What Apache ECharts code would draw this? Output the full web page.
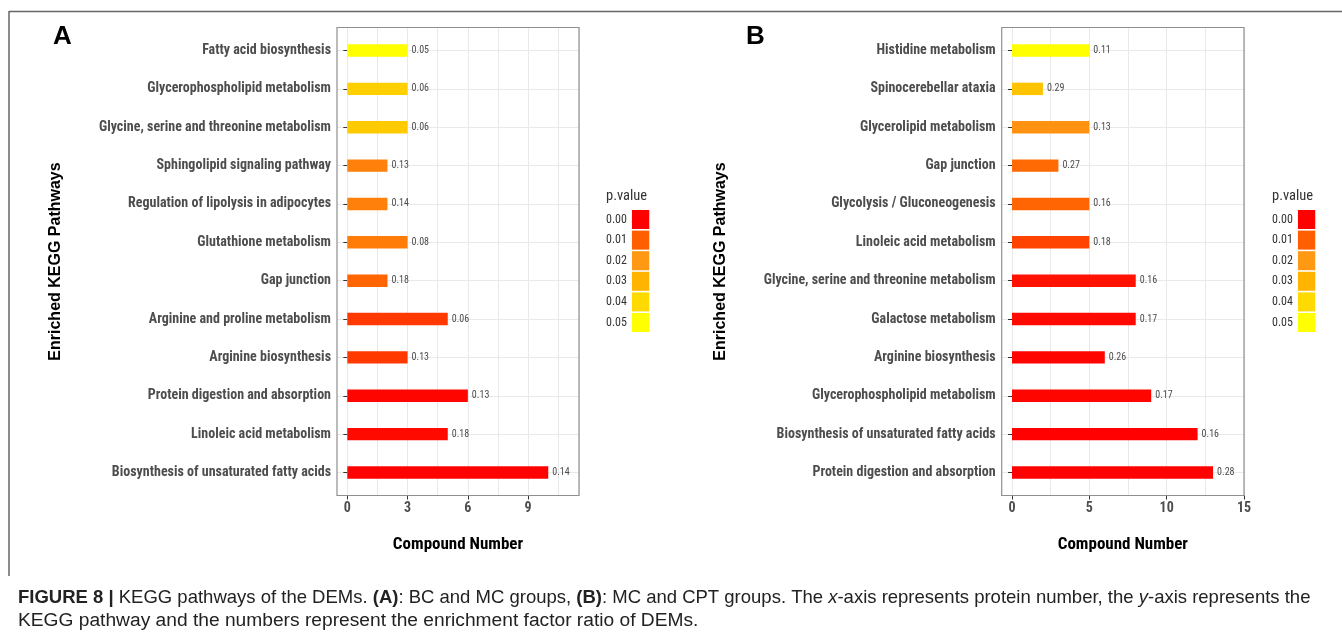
<!DOCTYPE html>
<html><head><meta charset="utf-8">
<script src="https://cdn.jsdelivr.net/npm/echarts@6/dist/echarts.min.js"></script>
<style>html,body{margin:0;padding:0;background:#fff;}#c{width:1342px;height:641px;}</style>
</head><body><div id="c"></div>
<script>
// ---------------- DATA (top to bottom as drawn) ----------------
const catsA = ['Fatty acid biosynthesis','Glycerophospholipid metabolism','Glycine, serine and threonine metabolism','Sphingolipid signaling pathway','Regulation of lipolysis in adipocytes','Glutathione metabolism','Gap junction','Arginine and proline metabolism','Arginine biosynthesis','Protein digestion and absorption','Linoleic acid metabolism','Biosynthesis of unsaturated fatty acids'];
const countsA = [3,3,3,2,2,3,2,5,3,6,5,10];
const pvalA   = [0.050,0.037,0.036,0.016,0.016,0.015,0.011,0.006,0.006,0.0005,0.001,0.0002];
const ratioA  = [0.05,0.06,0.06,0.13,0.14,0.08,0.18,0.06,0.13,0.13,0.18,0.14];

const catsB = ['Histidine metabolism','Spinocerebellar ataxia','Glycerolipid metabolism','Gap junction','Glycolysis / Gluconeogenesis','Linoleic acid metabolism','Glycine, serine and threonine metabolism','Galactose metabolism','Arginine biosynthesis','Glycerophospholipid metabolism','Biosynthesis of unsaturated fatty acids','Protein digestion and absorption'];
const countsB = [5,2,5,3,5,5,8,8,6,9,12,13];
const pvalB   = [0.050,0.034,0.019,0.012,0.011,0.007,0.002,0.001,0.0005,0.0005,0.0001,0.0001];
const ratioB  = [0.11,0.29,0.13,0.27,0.16,0.18,0.16,0.17,0.26,0.17,0.16,0.28];

const legendBreaks = [0.00,0.01,0.02,0.03,0.04,0.05];
const pRange = [0, 0.05];
const colorStops = ['#FF0000','#FF5F00','#FF9812','#FFB500','#FFDA00','#FFFF00'];

// ---------------- LAYOUT ----------------
const NARROW = "'Roboto Condensed','Open Sans Condensed','Liberation Sans',Arial,sans-serif";
const WIDE = "'Liberation Sans',Arial,sans-serif";
const TOP = 27.5, HEIGHT = 468;
const layoutA = {left:337, right:579, xmin:-0.512, xmax:11.53, tickStep:3, minorStep:1.5, legendLeft:606, letter:'A', letterLeft:53};
const layoutB = {left:1001.7, right:1244, xmin:-0.666, xmax:15.0, tickStep:5, minorStep:2.5, legendLeft:1272, letter:'B', letterLeft:746};

const grids=[], xAxes=[], yAxes=[], series=[], visualMaps=[], titles=[];
const barSeriesIdx=[];
const hidden = {axisLine:{show:false}, axisTick:{show:false}, axisLabel:{show:false}, splitLine:{show:false}};

function addPanel(L, cats, counts, pvals, ratios){
  const n = cats.length;
  const W = L.right - L.left;
  const band = HEIGHT/(n - 1 + 1.2);
  const px = v => L.left + (v - L.xmin)/(L.xmax - L.xmin)*W;
  const x0 = px(0);
  let g;
  // vertical grid lines (major + minor)
  g = grids.length;
  grids.push({left:x0, top:TOP, width:L.right - x0, height:HEIGHT, outerBoundsMode:'none'});
  xAxes.push(Object.assign({gridIndex:g, type:'value', min:0, max:L.xmax, interval:L.minorStep}, hidden, {splitLine:{show:true, lineStyle:{color:'#e9e9e9', width:1}}}));
  yAxes.push(Object.assign({gridIndex:g, type:'value', min:0, max:1}, hidden));
  // horizontal grid lines at category centres
  g = grids.length;
  grids.push({left:L.left, top:TOP + 0.6*band, width:W, height:(n-1)*band, outerBoundsMode:'none'});
  xAxes.push(Object.assign({gridIndex:g, type:'value', min:0, max:1}, hidden));
  yAxes.push(Object.assign({gridIndex:g, type:'value', min:0, max:n-1, interval:1}, hidden, {splitLine:{show:true, lineStyle:{color:'#e9e9e9', width:1}}}));
  // frame + axis titles
  g = grids.length;
  const frameG = g;
  grids.push({left:L.left, top:TOP, width:W, height:HEIGHT, show:true, borderColor:'#8f8f8f', borderWidth:1.2, backgroundColor:'transparent', z:3, outerBoundsMode:'none'});
  xAxes.push(Object.assign({gridIndex:g, type:'value', min:0, max:1, name:'Compound Number', nameLocation:'middle', nameGap:41,
    nameTextStyle:{fontFamily:NARROW, fontWeight:'bold', fontSize:17, color:'#000'}}, hidden));
  yAxes.push(Object.assign({gridIndex:g, type:'value', min:0, max:1, name:'Enriched KEGG Pathways', nameLocation:'middle', nameRotate:90, nameGap:273,
    nameTextStyle:{fontFamily:WIDE, fontWeight:'bold', fontSize:16, color:'#000'}}, hidden));
  // x ticks + labels
  g = grids.length;
  const tickMax = Math.floor(L.xmax/L.tickStep + 1e-9)*L.tickStep;
  grids.push({left:x0, top:TOP, width:px(tickMax) - x0, height:HEIGHT, outerBoundsMode:'none'});
  xAxes.push({gridIndex:g, type:'value', min:0, max:tickMax, interval:L.tickStep, axisLine:{show:false},
    axisTick:{show:true, length:4, lineStyle:{color:'#333', width:1}},
    axisLabel:{show:true, margin:6, fontFamily:NARROW, fontWeight:'bold', fontSize:14, color:'#4d4d4d'},
    splitLine:{show:false}});
  yAxes.push(Object.assign({gridIndex:g, type:'value', min:0, max:1}, hidden));
  // bars
  g = grids.length;
  grids.push({left:L.left, top:TOP + 0.1*band, width:W, height:n*band, outerBoundsMode:'none'});
  xAxes.push(Object.assign({gridIndex:g, type:'value', min:L.xmin, max:L.xmax}, hidden));
  yAxes.push({gridIndex:g, type:'category', data:cats, inverse:true, axisLine:{show:false},
    axisTick:{show:true, alignWithLabel:true, length:4, lineStyle:{color:'#333', width:1}},
    axisLabel:{show:true, margin:6, fontFamily:NARROW, fontWeight:'bold', fontSize:14, color:'#4d4d4d', interval:0},
    splitLine:{show:false}});
  barSeriesIdx.push(series.length);
  series.push({type:'bar', xAxisIndex:g, yAxisIndex:g, barWidth:12.4, z:4,
    data: cats.map((c,i)=>[counts[i], c, pvals[i], ratios[i]]),
    encode:{x:0, y:1},
    label:{show:true, position:'right', distance:4, formatter:p=>p.value[3].toFixed(2), fontFamily:NARROW, fontSize:10, color:'#4d4d4d'},
    itemStyle:{borderWidth:0}
  });
  // dummy series for the legend
  const dummyIdx = series.length;
  series.push({type:'scatter', xAxisIndex:frameG, yAxisIndex:frameG, data:[], silent:true});
  visualMaps.push({type:'piecewise', show:true, seriesIndex:dummyIdx, orient:'vertical', inverse:true, left:L.legendLeft, top:210,
    itemWidth:17.3, itemHeight:19, itemGap:1.6, itemSymbol:'rect', align:'right', textGap:5, selectedMode:false, padding:0,
    pieces: legendBreaks.map(v=>({value:v, label:v.toFixed(2), color:echarts.color.lerp((v-pRange[0])/(pRange[1]-pRange[0]), colorStops)})),
    textStyle:{fontFamily:NARROW, fontSize:12, color:'#333'}});
  titles.push({text:'p.value', left:L.legendLeft, top:189, padding:0, textStyle:{fontFamily:NARROW, fontSize:14.5, fontWeight:'normal', color:'#333'}});
  titles.push({text:L.letter, left:L.letterLeft, top:24, padding:0, textStyle:{fontFamily:WIDE, fontSize:26, fontWeight:'bold', color:'#000'}});
}

addPanel(layoutA, catsA, countsA, pvalA, ratioA);
addPanel(layoutB, catsB, countsB, pvalB, ratioB);

visualMaps.push({type:'continuous', show:false, min:pRange[0], max:pRange[1], dimension:2, seriesIndex:barSeriesIdx, inRange:{color:colorStops}});

const CAP1 = 18.5, CAP2 = 19.2;
titles.push({left:18, top:588, padding:0, text:'{b|FIGURE 8 |} KEGG pathways of the DEMs. {b|(A)}: BC and MC groups, {b|(B)}: MC and CPT groups. The {i|x}-axis represents protein number, the {i|y}-axis represents the',
  textStyle:{fontFamily:WIDE, fontSize:CAP1, fontWeight:'normal', color:'#222', rich:{b:{fontFamily:WIDE, fontSize:CAP1, fontWeight:'bold', color:'#222'}, i:{fontFamily:WIDE, fontSize:CAP1, fontStyle:'italic', color:'#222'}}}});
titles.push({left:18, top:611, padding:0, text:'KEGG pathway and the numbers represent the enrichment factor ratio of DEMs.',
  textStyle:{fontFamily:WIDE, fontSize:CAP2, fontWeight:'normal', color:'#222'}});

const chart = echarts.init(document.getElementById('c'), null, {renderer:'canvas'});
chart.setOption({
  backgroundColor:'#fff',
  animation:false,
  textStyle:{fontFamily:NARROW},
  title: titles,
  grid: grids, xAxis: xAxes, yAxis: yAxes, series: series, visualMap: visualMaps,
  graphic:[
    {type:'line', shape:{x1:9, y1:11.5, x2:1342, y2:11.5}, style:{stroke:'#666', lineWidth:1.5}, silent:true},
    {type:'line', shape:{x1:9, y1:11, x2:9, y2:576}, style:{stroke:'#666', lineWidth:1.5}, silent:true}
  ]
});
</script></body></html>
